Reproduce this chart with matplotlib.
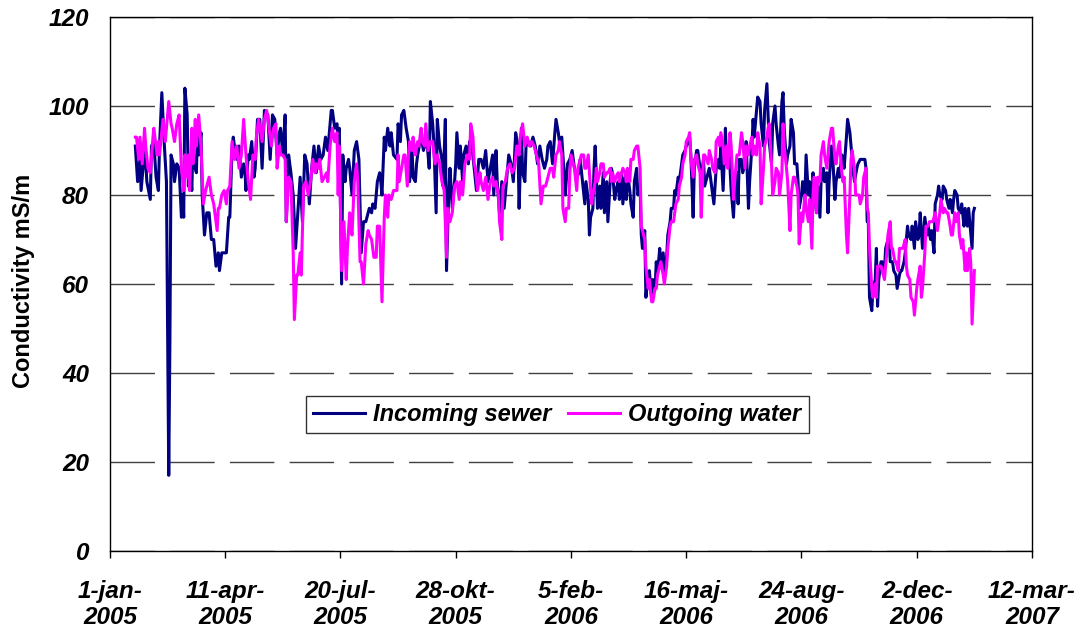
import datetime as dt
import matplotlib
matplotlib.use("Agg")
import matplotlib.pyplot as plt

plt.rcParams['font.family'] = ['Liberation Sans', 'DejaVu Sans']

START = dt.date(2005, 1, 1)

# days since 1-jan-2005 and conductivity (mS/m)
in_days = [22, 24, 26, 27, 29, 30, 32, 35, 36, 38, 40, 42, 43, 45, 47, 49, 51, 52, 53, 55, 56, 58, 60, 62, 63, 64, 65, 67, 68, 70,
           71, 72, 73, 75, 76, 77, 79, 80, 82, 84, 86, 88, 90, 92, 94, 95, 97, 101, 103, 104, 106, 107, 108, 110, 112, 114, 116, 117, 118, 120,
           121, 123, 125, 126, 128, 130, 132, 134, 137, 139, 141, 143, 145, 147, 148, 150, 152, 153, 155, 157, 159, 161, 163, 165, 167, 169, 171, 173, 175, 177,
           179, 181, 183, 185, 187, 189, 192, 193, 195, 197, 198, 199, 201, 202, 204, 205, 207, 208, 210, 211, 212, 214, 216, 218, 220, 222, 224, 225, 227, 228,
           230, 232, 234, 235, 236, 238, 239, 241, 243, 244, 246, 249, 250, 252, 253, 255, 257, 259,
           260, 262, 263, 265, 266, 267, 269, 270, 272, 273, 275, 277, 278, 280, 281, 283, 284, 286, 288, 289, 291, 292, 294, 295, 297, 299, 300, 301, 303, 304,
           306, 307, 309, 311, 312, 314, 316, 318, 320, 322, 324, 326, 328, 330, 332, 333, 335, 336, 338, 340, 342, 344, 346, 348, 350, 352, 354, 355, 357, 358,
           360, 361, 363, 365, 367, 369, 371, 373, 375, 377, 379, 380, 382, 384, 386, 387, 389,
           390, 392, 394, 395, 397, 399, 401, 403, 405, 407, 408, 410, 412, 413, 415, 416, 417, 419, 420, 421, 423, 425, 426, 428, 429, 431, 432, 434, 435, 436,
           438, 439, 441, 442, 444, 445, 447, 448, 449, 451, 452, 454, 455, 457, 458, 460, 461, 462, 464, 465, 467, 468, 470, 471, 473, 474, 475, 477, 478, 480,
           481, 483, 484, 486, 487, 489, 490, 491, 493, 494, 496, 497, 499, 500, 502, 503, 504, 506, 507, 509, 510, 512, 513, 515, 516,
           519, 520, 522, 524, 526, 528, 529, 530, 532, 534, 535, 537, 539, 541, 542, 544, 545, 546, 548, 549, 551, 552, 554, 555, 557, 558, 559, 561, 562, 564,
           565, 567, 568, 570, 571, 572, 574, 575, 577, 578, 580, 581, 583, 584, 585, 587, 588, 590, 591, 593, 594, 596, 597, 598, 600, 601, 603, 604, 606, 607,
           609, 610, 611, 613, 614, 616, 617, 619, 620, 622, 623, 624, 626, 627, 629, 630, 632, 633, 635, 636, 637, 639, 640, 642,
           643, 645, 646, 648, 649, 651, 652, 653, 655, 656, 657, 658, 659, 661, 662, 664, 665, 666, 667, 669, 670, 672, 673, 674, 676, 677, 679, 680, 682, 683,
           685, 686, 687, 689, 690, 692, 693, 695, 696, 698, 699, 701, 702, 703, 705, 706, 707, 709, 710, 712, 713, 715, 716, 718, 719, 720, 722, 723, 725, 726,
           728, 729, 731, 732, 733, 735, 736, 738, 739, 741, 742, 744, 745, 746, 748, 749, 750]
in_vals = [91, 83, 88, 81, 87, 92, 83, 79, 91, 92, 84, 81, 91, 103, 92, 83, 17, 47, 89, 87, 83, 87, 86, 75, 80, 75, 104, 98, 82, 86,
           81, 91, 87, 85, 96, 89, 94, 80, 71, 76, 76, 70, 70, 64, 67, 63, 67, 67, 75, 75, 91, 93, 91, 88, 91, 84, 87, 86, 81, 89,
           88, 92, 84, 86, 97, 97, 86, 99, 98, 88, 98, 97, 89, 94, 95, 89, 98, 74, 89, 85, 80, 68, 76, 84, 74, 89, 87, 78, 86, 91,
           85, 91, 88, 89, 93, 90, 99, 99, 95, 96, 91, 95, 60, 89, 83, 86, 88, 86, 80, 85, 90, 92, 88, 67, 74, 74, 76, 77, 76, 78,
           77, 83, 85, 83, 80, 93, 90, 95, 91, 94, 89, 88, 96, 92, 98, 99, 95, 92,
           83, 91, 84, 83, 87, 89, 92, 93, 90, 91, 92, 86, 101, 96, 92, 76, 97, 91, 88, 82, 97, 63, 81, 86, 77, 83, 87, 94, 86, 91,
           83, 89, 91, 87, 92, 91, 86, 81, 88, 88, 86, 90, 83, 86, 89, 80, 90, 83, 76, 83, 77, 83, 89, 87, 83, 94, 91, 77, 95, 85,
           83, 91, 92, 91, 93, 91, 87, 91, 88, 86, 88, 91, 92, 87, 94, 97, 94,
           92, 93, 85, 80, 87, 88, 90, 86, 84, 85, 88, 83, 78, 83, 79, 71, 75, 77, 86, 91, 77, 82, 77, 85, 76, 83, 74, 83, 86, 85,
           79, 81, 83, 79, 85, 78, 84, 79, 85, 81, 78, 75, 83, 86, 80, 82, 71, 68, 72, 57, 62, 63, 57, 61, 59, 65, 62, 68, 64, 67,
           63, 66, 71, 74, 77, 77, 81, 80, 84, 83, 87, 89, 90, 91, 92, 93, 89, 75, 86, 90, 90, 86, 84, 88, 82,
           85, 86, 82, 78, 86, 88, 86, 91, 81, 95, 87, 91, 81, 75, 81, 85, 78, 88, 88, 85, 87, 92, 77, 83, 91, 97, 93, 99, 102, 101,
           96, 91, 99, 105, 98, 92, 87, 96, 100, 96, 91, 89, 101, 103, 95, 87, 89, 91, 97, 94, 87, 87, 83, 77, 80, 83, 80, 89, 80, 83,
           77, 85, 81, 76, 82, 75, 83, 86, 83, 85, 76, 83, 91, 89, 79, 83, 86, 84, 89, 88, 86, 93, 97, 94,
           91, 85, 83, 86, 87, 88, 88, 88, 88, 86, 74, 74, 57, 54, 59, 61, 68, 55, 61, 65, 65, 63, 68, 69, 71, 65, 65, 63, 62, 59,
           62, 63, 63, 65, 67, 73, 71, 70, 73, 68, 74, 70, 71, 76, 68, 71, 75, 71, 73, 70, 72, 67, 78, 80, 82, 80, 79, 82, 81, 79,
           77, 79, 76, 79, 81, 80, 77, 76, 78, 73, 77, 73, 77, 74, 68, 76, 77]

out_days = [22, 23, 25, 26, 28, 30, 31, 33, 35, 37, 38, 41, 42, 43, 46, 48, 50, 51, 53, 54, 56, 58, 60, 62, 64, 65, 67, 68, 69, 71,
            72, 74, 75, 77, 79, 81, 83, 85, 86, 88, 90, 93, 94, 95, 97, 99, 101, 102, 104, 106, 108, 110, 112, 114, 116, 118, 120, 122, 124, 126,
            127, 129, 132, 134, 136, 138,
            140, 142, 144, 145, 147, 148, 150, 152, 153, 155, 157, 159, 160, 162, 163, 165, 166, 168, 170, 172, 174, 176, 178, 179, 181, 182, 184, 186, 188, 189,
            191, 193, 195, 197, 198, 199, 201, 203, 205, 206, 208, 209, 210, 212, 214, 215, 217, 218, 220, 222, 224, 225, 227, 229, 231, 232, 234, 236, 238, 239,
            241, 242, 244, 246, 249, 250, 251, 253, 255, 256, 258, 259,
            260, 262, 263, 265, 267, 268, 270, 271, 273, 274, 276, 278, 280, 282, 284, 286, 288, 290, 292, 293, 295, 297, 299, 301, 303, 304, 306, 308, 310, 312,
            313, 315, 316, 317, 319, 321, 322, 324, 326, 328, 330, 332, 333, 335, 337, 338, 340, 341, 343, 345, 347, 349, 351, 353, 355, 356, 358, 360, 362, 364,
            366, 368, 370, 372, 374, 376, 378, 380, 382, 384, 385, 387, 389,
            390, 392, 393, 395, 396, 398, 399, 400, 402, 403, 405, 406, 408, 409, 411, 412, 413, 415, 416, 418, 419, 421, 422, 423, 425, 426, 428, 429, 431, 432,
            434, 435, 436, 438, 439, 441, 442, 444, 445, 447, 448, 449, 451, 452, 454, 455, 457, 458, 460, 461, 462, 464, 465, 467, 468, 470, 471, 473, 474, 475,
            477, 478, 480, 481, 483, 484, 486, 487, 489, 490, 491, 493, 494, 496, 497, 499, 500, 502, 503, 504, 506, 507, 509, 510, 512, 513, 515, 516,
            519, 520, 522, 523, 525, 526, 528, 529, 530, 532, 533, 535, 536, 538, 539, 541, 542, 544, 545, 546, 548, 549, 551, 552, 554, 555, 557, 558, 559, 561,
            562, 564, 565, 567, 568, 570, 571, 572, 574, 575, 577, 578, 580, 581, 583, 584, 585, 587, 588, 590, 591, 593, 594, 596, 597, 598, 600, 601, 603, 604,
            606, 607, 609, 610, 611, 613, 614, 616, 617, 619, 620, 622, 623, 624, 626, 627, 629, 630, 632, 633, 635, 636, 637, 639, 640, 642,
            643, 644, 646, 647, 648, 650, 651, 653, 654, 656, 657, 658, 659, 661, 662, 664, 665, 666, 668, 669, 671, 672, 674, 675, 677, 678, 679, 681, 682, 684,
            685, 687, 688, 690, 691, 692, 694, 695, 697, 698, 700, 701, 703, 704, 705, 707, 708, 710, 711, 713, 714, 716, 717, 718, 720, 721, 723, 724, 726, 727,
            729, 730, 731, 733, 734, 736, 737, 739, 740, 742, 743, 744, 746, 747, 748, 750]
out_vals = [93, 93, 88, 93, 87, 95, 91, 86, 85, 92, 95, 89, 92, 89, 97, 92, 98, 101, 96, 95, 92, 96, 98, 86, 81, 89, 84, 89, 81, 95,
            87, 97, 91, 98, 91, 78, 81, 83, 84, 80, 78, 72, 77, 77, 80, 81, 78, 81, 82, 92, 88, 91, 86, 89, 97, 89, 83, 79, 89, 88,
            93, 97, 92, 97, 99, 95,
            91, 95, 96, 86, 91, 89, 89, 88, 74, 84, 83, 67, 52, 62, 62, 67, 62, 82, 83, 80, 83, 88, 85, 87, 86, 88, 83, 84, 85, 83,
            91, 95, 92, 94, 80, 91, 63, 74, 61, 68, 76, 73, 71, 83, 87, 83, 65, 65, 60, 69, 72, 71, 70, 66, 66, 73, 73, 56, 75, 80,
            75, 80, 79, 81, 81, 89, 83, 86, 89, 89, 82, 89,
            92, 90, 93, 89, 92, 91, 95, 92, 91, 96, 90, 92, 92, 87, 89, 87, 83, 81, 66, 77, 74, 76, 82, 83, 79, 83, 80, 87, 89, 88,
            96, 93, 87, 86, 81, 85, 83, 81, 84, 79, 83, 84, 82, 83, 80, 74, 70, 82, 83, 86, 87, 85, 86, 91, 89, 93, 96, 91, 93, 91,
            92, 91, 89, 87, 78, 82, 82, 84, 86, 86, 84, 89, 90,
            92, 89, 77, 74, 77, 77, 85, 89, 87, 86, 81, 86, 88, 89, 89, 86, 86, 89, 85, 78, 80, 83, 86, 83, 85, 87, 87, 84, 85, 85,
            86, 83, 85, 83, 84, 85, 83, 85, 86, 85, 83, 86, 83, 88, 88, 90, 91, 91, 86, 73, 72, 70, 64, 59, 61, 56, 56, 59, 59, 62,
            64, 65, 62, 60, 64, 68, 73, 74, 74, 76, 78, 79, 82, 84, 87, 89, 92, 93, 94, 88, 84, 88, 89, 87, 85, 75, 89, 89,
            87, 90, 88, 86, 85, 92, 93, 91, 94, 91, 87, 91, 86, 94, 91, 79, 83, 89, 89, 89, 94, 92, 86, 91, 89, 91, 93, 89, 91, 89,
            94, 91, 78, 86, 91, 93, 95, 96, 87, 80, 83, 86, 85, 80, 85, 96, 91, 86, 83, 72, 80, 84, 84, 82, 80, 69, 76, 74, 80, 77,
            74, 79, 68, 80, 84, 76, 84, 83, 89, 92, 89, 86, 89, 92, 95, 95, 88, 87, 91, 92, 85, 83, 84, 71, 67, 80,
            88, 90, 86, 80, 80, 80, 78, 80, 84, 86, 77, 76, 68, 59, 57, 60, 57, 64, 64, 64, 62, 61, 67, 71, 74, 68, 68, 65, 65, 63,
            68, 68, 68, 70, 64, 62, 61, 57, 56, 53, 59, 61, 64, 57, 59, 67, 73, 73, 74, 74, 74, 76, 74, 72, 76, 79, 76, 77, 76, 76,
            73, 71, 71, 76, 74, 76, 71, 68, 70, 63, 67, 63, 68, 64, 51, 63]

tick_labels = ['1-jan-\n2005', '11-apr-\n2005', '20-jul-\n2005', '28-okt-\n2005', '5-feb-\n2006',
               '16-maj-\n2006', '24-aug-\n2006', '2-dec-\n2006', '12-mar-\n2007']
y_ticks = [0, 20, 40, 60, 80, 100, 120]

in_dates = [START + dt.timedelta(days=d) for d in in_days]
out_dates = [START + dt.timedelta(days=d) for d in out_days]
tick_dates = [START + dt.timedelta(days=100 * i) for i in range(len(tick_labels))]

fig = plt.figure(figsize=(10.76, 6.29), dpi=100)
ax = fig.add_axes([0.1022, 0.124, 0.8569, 0.849])

ax.plot(in_dates, in_vals, color='#000080', lw=2.2, label='Incoming sewer')
ax.plot(out_dates, out_vals, color='#FF00FF', lw=2.2, label='Outgoing water')

ax.set_xlim(tick_dates[0], tick_dates[-1])
ax.set_ylim(0, 120)
ax.set_yticks(y_ticks)
ax.set_xticks(tick_dates)
ax.set_xticklabels(tick_labels, linespacing=1.18)

for lab in ax.get_xticklabels() + ax.get_yticklabels():
    lab.set_fontsize(17.5)
    lab.set_fontweight('bold')
    lab.set_fontstyle('italic')

ax.tick_params(axis='x', direction='out', length=5, width=1, pad=16)
ax.tick_params(axis='y', length=0, pad=15)

ax.yaxis.grid(True, color='#404040', lw=1.0, linestyle=(0, (32, 11)))
ax.set_axisbelow(True)
for sp in ax.spines.values():
    sp.set_color('black')
    sp.set_linewidth(1.0)

ax.set_ylabel('Conductivity mS/m', fontsize=17, fontweight='bold')
ax.yaxis.set_label_coords(-0.081, 0.505)

leg = ax.legend(loc='center', bbox_to_anchor=(0.485, 0.255), ncol=2, frameon=True, fancybox=False,
                prop=dict(size=17, weight='bold', style='italic'), handlelength=2.2,
                handletextpad=0.35, columnspacing=0.7, borderpad=0.3)
leg.get_frame().set_edgecolor('black')
leg.get_frame().set_linewidth(1.0)

fig.savefig('out.png', dpi=100)
